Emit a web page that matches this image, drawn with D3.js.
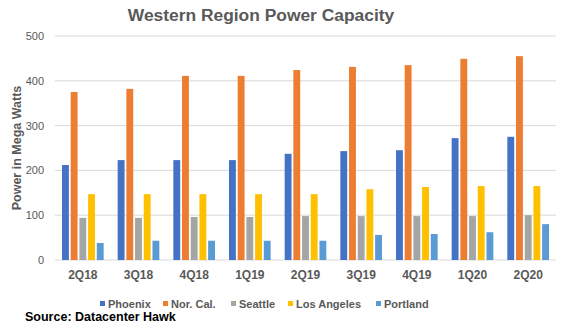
<!DOCTYPE html>
<html>
<head>
<meta charset="utf-8">
<script src="https://cdn.jsdelivr.net/npm/d3@7"></script>
<style>
  body { margin: 0; background: #fff; }
  svg { display: block; font-family: "Liberation Sans", Arial, sans-serif; }
</style>
</head>
<body>
<div id="chart"></div>
<script>
const quarters = ["2Q18", "3Q18", "4Q18", "1Q19", "2Q19", "3Q19", "4Q19", "1Q20", "2Q20"];
const regions = ["Phoenix", "Nor. Cal.", "Seattle", "Los Angeles", "Portland"];
const colors = ["#4472C4", "#ED7D31", "#A5A5A5", "#FFC000", "#5B9BD5"];

const phoenix    = [212, 223, 223, 223, 237, 243, 245, 272, 275];
const norCal     = [375, 382, 411, 411, 424, 431, 435, 449, 455];
const seattle    = [94, 94, 96, 96, 98, 98, 98, 98, 100];
const losAngeles = [147, 147, 147, 147, 147, 158, 163, 165, 165];
const portland   = [38, 43, 43, 43, 43, 56, 58, 62, 80];
const yTicks = [0, 100, 200, 300, 400, 500];

const series = [phoenix, norCal, seattle, losAngeles, portland];

const width = 561, height = 334;
const plot = { left: 55, right: 556, top: 36, bottom: 260 };

const svg = d3.select("#chart").append("svg")
  .attr("width", width)
  .attr("height", height);

const x0 = d3.scaleBand().domain(quarters).range([plot.left, plot.right]);
const x1 = d3.scaleBand().domain(regions)
  .range([7, x0.step() - 7])
  .paddingInner(0.21);
const y = d3.scaleLinear().domain([0, 500]).range([plot.bottom, plot.top]);

// gridlines
svg.append("g")
  .selectAll("line")
  .data(yTicks)
  .join("line")
  .attr("x1", plot.left)
  .attr("x2", plot.right)
  .attr("y1", d => y(d))
  .attr("y2", d => y(d))
  .attr("stroke", "#d9d9d9")
  .attr("stroke-width", 1);

// y tick labels
svg.append("g")
  .selectAll("text")
  .data(yTicks)
  .join("text")
  .attr("x", 44)
  .attr("y", d => y(d) + 4)
  .attr("text-anchor", "end")
  .attr("font-size", "11px")
  .attr("fill", "#595959")
  .text(d => d);

// bars
const groups = svg.append("g")
  .selectAll("g")
  .data(quarters)
  .join("g")
  .attr("transform", d => `translate(${x0(d)},0)`);

groups.selectAll("rect")
  .data((q, i) => regions.map((r, j) => ({ r, j, v: series[j][i] })))
  .join("rect")
  .attr("x", d => x1(d.r))
  .attr("y", d => y(d.v))
  .attr("width", x1.bandwidth())
  .attr("height", d => y(0) - y(d.v))
  .attr("fill", d => colors[d.j]);

// x labels
svg.append("g")
  .selectAll("text")
  .data(quarters)
  .join("text")
  .attr("x", d => x0(d) + x0.bandwidth() / 2)
  .attr("y", 279)
  .attr("text-anchor", "middle")
  .attr("font-size", "12px")
  .attr("font-weight", "bold")
  .attr("fill", "#595959")
  .text(d => d);

// title
svg.append("text")
  .attr("x", 261)
  .attr("y", 21)
  .attr("text-anchor", "middle")
  .attr("font-size", "17.4px")
  .attr("font-weight", "bold")
  .attr("fill", "#595959")
  .text("Western Region Power Capacity");

// y axis title
svg.append("text")
  .attr("transform", `translate(21,${(plot.top + plot.bottom) / 2}) rotate(-90)`)
  .attr("text-anchor", "middle")
  .attr("font-size", "12.5px")
  .attr("font-weight", "bold")
  .attr("fill", "#595959")
  .text("Power in Mega Watts");

// legend
const legendX = [100, 163, 231, 288, 376];
const legend = svg.append("g")
  .selectAll("g")
  .data(regions)
  .join("g")
  .attr("transform", (d, i) => `translate(${legendX[i]},301)`);
legend.append("rect")
  .attr("width", 5)
  .attr("height", 5)
  .attr("fill", (d, i) => colors[i]);
legend.append("text")
  .attr("x", 8)
  .attr("y", 7)
  .attr("font-size", "11px")
  .attr("font-weight", "bold")
  .attr("fill", "#595959")
  .text(d => d);

// source note
svg.append("text")
  .attr("x", 25)
  .attr("y", 321)
  .attr("font-size", "12.5px")
  .attr("font-weight", "bold")
  .attr("fill", "#000")
  .text("Source: Datacenter Hawk");
</script>
</body>
</html>
